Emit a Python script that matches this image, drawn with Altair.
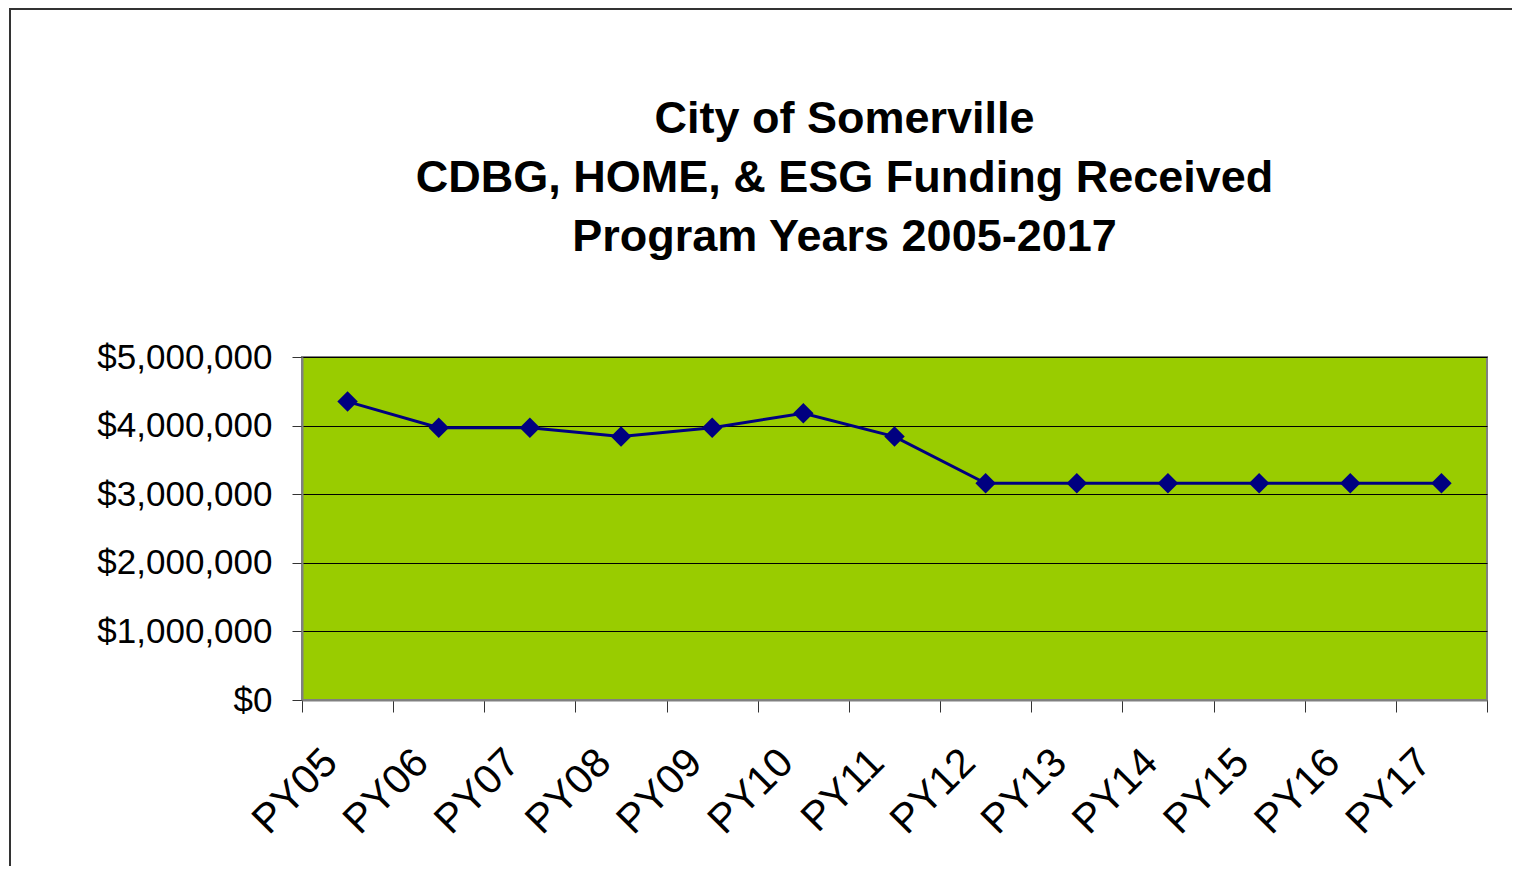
import altair as alt
import pandas as pd

years = ["PY05", "PY06", "PY07", "PY08", "PY09", "PY10", "PY11",
         "PY12", "PY13", "PY14", "PY15", "PY16", "PY17"]
funding = [4350000, 3970000, 3970000, 3840000, 3970000, 4180000, 3840000,
           3160000, 3160000, 3160000, 3160000, 3160000, 3160000]
title_lines = ["City of Somerville",
               "CDBG, HOME, & ESG Funding Received",
               "Program Years 2005-2017"]

df = pd.DataFrame({"year": years, "funding": funding})
FONT = "Liberation Sans"

x_enc = alt.X("year:N", sort=years, title=None,
              scale=alt.Scale(paddingInner=0, paddingOuter=0),
              axis=alt.Axis(labelAngle=-45, labelAlign="right", labelBaseline="middle",
                            labelPadding=44, labelOffset=-17, tickBand="extent",
                            tickSize=12, tickColor="#333333", domainColor="#808080",
                            domainWidth=2, labelFontSize=41, labelFont=FONT,
                            labelColor="black", grid=False))
y_enc = alt.Y("funding:Q", title=None,
              scale=alt.Scale(domain=[0, 5000000]),
              axis=alt.Axis(values=[0, 1000000, 2000000, 3000000, 4000000, 5000000],
                            format="$,.0f", tickSize=10, tickColor="#333333",
                            domainColor="#808080", domainWidth=2, labelPadding=20,
                            labelFontSize=35, labelFont=FONT, labelColor="black",
                            grid=True, gridColor="black", gridWidth=1))

frame = alt.Chart(df).mark_rect(fill=None, stroke="#333333", strokeWidth=2, clip=False).encode(
    x=alt.value(-292), x2=alt.value(1300), y=alt.value(-348), y2=alt.value(700)
).transform_filter(alt.datum.year == "PY05")

line = alt.Chart(df).mark_line(color="#000080", strokeWidth=3).encode(x=x_enc, y=y_enc)
pts = alt.Chart(df).mark_point(shape="diamond", filled=True, size=420, color="#000080",
                               opacity=1).encode(x=x_enc, y=y_enc)

chart = alt.layer(line, pts, frame).properties(
    width=1185, height=343,
    autosize=alt.AutoSizeParams(type="none"),
    padding={"left": 294, "top": 349, "right": 25, "bottom": 166},
    title=alt.TitleParams(text=title_lines, font=FONT, fontSize=45, fontWeight="bold",
                          color="black", lineHeight=59, anchor="middle", frame="group",
                          dx=-50, offset=-252),
).configure_view(fill="#99CC00", stroke="#808080", strokeWidth=2)

chart.save("out.html", embed_options={"renderer": "svg", "actions": False})
